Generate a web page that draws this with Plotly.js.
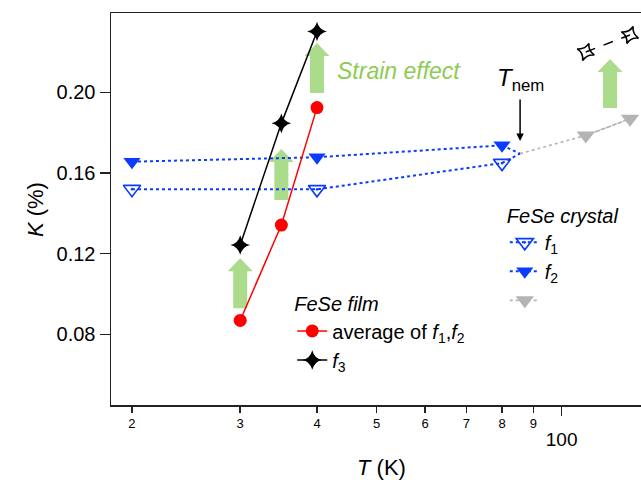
<!DOCTYPE html>
<html><head><meta charset="utf-8">
<script src="https://cdn.plot.ly/plotly-3.0.1.min.js"></script>
<style>html,body{margin:0;padding:0;background:#fff}</style>
</head><body>
<div id="chart" style="width:641px;height:480px"></div>
<script>
// ---- data ----
const filmT = [3, 3.5, 4];
const filmAvgK = [0.0869, 0.1342, 0.1924];
const filmF3K = [0.1243, 0.1846, 0.2301];

const crystalT = [2, 4, 8];
const crystalF1K = [0.1520, 0.1519, 0.1649];
const crystalF2K = [0.1656, 0.1678, 0.1737];

const tnemT = 8.56;
const tnemK = 0.1696;
const tnemArrowTipK = 0.1759;

const greyT = [10.95, 12.92];
const greyK = [0.1786, 0.1869];

const crystalF3T = [10.95, 12.92];
const crystalF3K = [0.2200, 0.2284];

const arrowT = [3, 3.5, 4, 11.99];
const arrowFromK = [0.0930, 0.1466, 0.1997, 0.1922];
const arrowToK = [0.1178, 0.1719, 0.2244, 0.2165];

const minorTickVals = [2, 3, 4, 5, 6, 7, 8, 9];
const minorTickText = ['2', '3', '4', '5', '6', '7', '8', '9'];
const majorTickVals = [10];
const majorTickText = ['100'];
const yTickVals = [0.08, 0.12, 0.16, 0.20];
const yTickText = ['0.08', '0.12', '0.16', '0.20'];

// ---- styling ----
const FONT = 'Arial, "Liberation Sans", Helvetica, sans-serif';
const BLUE = '#0a3cff';
const GREY = '#b4b4b4';
const GREEN_TEXT = '#8dcb52';
const GREEN_ARROW = '#aadc8c';
const xRange = [0.2669, 1.1292];
const yRange = [0.0450, 0.2393];
const W = 641, H = 480, M = {l: 111, r: 0, t: 13, b: 75};
const pxPerK = (H - M.t - M.b) / (yRange[1] - yRange[0]);

const traces = [];
traces.push({x: crystalT, y: crystalF1K, mode: 'lines+markers', name: '<i>f</i><sub>1</sub>',
  legend: 'legend2', line: {color: BLUE, width: 2, dash: 'dot'},
  marker: {symbol: 'triangle-down-open-dot', size: 15, color: BLUE, line: {color: BLUE, width: 1.6}}});
traces.push({x: crystalT, y: crystalF2K, mode: 'lines+markers', name: '<i>f</i><sub>2</sub>',
  legend: 'legend2', line: {color: BLUE, width: 2, dash: 'dot'},
  marker: {symbol: 'triangle-down', size: 15, color: BLUE}});
traces.push({x: [crystalT[crystalT.length - 1], tnemT], y: [crystalF1K[crystalF1K.length - 1], tnemK],
  mode: 'lines', showlegend: false, line: {color: BLUE, width: 2, dash: 'dot'}, hoverinfo: 'skip'});
traces.push({x: [crystalT[crystalT.length - 1], tnemT], y: [crystalF2K[crystalF2K.length - 1], tnemK],
  mode: 'lines', showlegend: false, line: {color: BLUE, width: 2, dash: 'dot'}, hoverinfo: 'skip'});
traces.push({x: [tnemT].concat(greyT), y: [tnemK].concat(greyK), mode: 'lines', showlegend: false,
  line: {color: GREY, width: 1.6, dash: 'dot'}, hoverinfo: 'skip'});
traces.push({x: greyT, y: greyK, mode: 'lines+markers', name: ' ', legend: 'legend2',
  line: {color: GREY, width: 1.6, dash: 'dot'},
  marker: {symbol: 'triangle-down', size: 16, color: GREY}});
traces.push({x: crystalF3T, y: crystalF3K, mode: 'lines+markers', showlegend: false,
  line: {color: '#000', width: 1.5, dash: '10px,9px'},
  marker: {symbol: 'star-diamond-open', size: 13, angle: 20, color: '#000', line: {color: '#000', width: 1.6}}});
traces.push({x: filmT, y: filmAvgK, mode: 'lines+markers',
  name: 'average of <i>f</i><sub>1</sub>,<i>f</i><sub>2</sub>', legend: 'legend',
  line: {color: '#ff0000', width: 1.5}, marker: {symbol: 'circle', size: 13, color: '#ff0000'}});
traces.push({x: filmT, y: filmF3K, mode: 'lines+markers', name: '<i>f</i><sub>3</sub>', legend: 'legend',
  line: {color: '#000', width: 1.5}, marker: {symbol: 'star-diamond', size: 14, color: '#000'}});
traces.push({x: [], y: [], xaxis: 'x2', yaxis: 'y', showlegend: false, hoverinfo: 'skip'});

const shaftHalf = 7, headHalf = 12.5, headPx = 13;
const shapes = arrowT.map((t, i) => {
  const y0 = arrowFromK[i], y1 = arrowToK[i], yh = y1 - headPx / pxPerK;
  return {type: 'path', xref: 'x', yref: 'y', xsizemode: 'pixel', xanchor: t, layer: 'below',
    path: `M${-shaftHalf},${y0} L${shaftHalf},${y0} L${shaftHalf},${yh} L${headHalf},${yh} L0,${y1} L${-headHalf},${yh} L${-shaftHalf},${yh} Z`,
    fillcolor: GREEN_ARROW, line: {width: 0}};
});

const layout = {
  width: W, height: H, margin: M,
  paper_bgcolor: '#fff', plot_bgcolor: '#fff',
  font: {family: FONT, color: '#000'},
  showlegend: true,
  xaxis: {type: 'log', range: xRange, tickmode: 'array', tickvals: minorTickVals, ticktext: minorTickText,
    ticks: 'outside', ticklen: 6, tickwidth: 1.5, tickcolor: '#222', tickfont: {size: 13, family: FONT},
    showline: true, mirror: true, linecolor: '#222', linewidth: 1.5, showgrid: false, zeroline: false},
  xaxis2: {type: 'log', range: xRange, overlaying: 'x', anchor: 'y', side: 'bottom',
    tickmode: 'array', tickvals: majorTickVals, ticktext: majorTickText,
    ticks: 'outside', ticklen: 10, tickwidth: 1.5, tickcolor: '#222', tickfont: {size: 19, family: FONT},
    ticklabelstandoff: 7, showline: false, showgrid: false, zeroline: false},
  yaxis: {range: yRange, tickmode: 'array', tickvals: yTickVals, ticktext: yTickText,
    ticks: 'outside', ticklen: 10, tickwidth: 1.5, tickcolor: '#222', tickfont: {size: 20, family: FONT},
    showline: true, linecolor: '#222', linewidth: 1.5, showgrid: false, zeroline: false},
  legend: {x: 0.342, y: 0.305, xanchor: 'left', yanchor: 'top', bgcolor: 'rgba(0,0,0,0)', borderwidth: 0,
    font: {size: 20, family: FONT}, title: {text: '<i>FeSe film</i>', font: {size: 20, family: FONT}},
    tracegroupgap: 0, itemwidth: 30},
  legend2: {x: 0.743, y: 0.531, xanchor: 'left', yanchor: 'top', bgcolor: 'rgba(0,0,0,0)', borderwidth: 0,
    font: {size: 20, family: FONT}, title: {text: '<i>FeSe crystal</i>', font: {size: 20, family: FONT}},
    tracegroupgap: 0, itemwidth: 30},
  shapes: shapes,
  annotations: [
    {x: -0.1434, y: 0.1421, xref: 'paper', yref: 'y', xanchor: 'center', yanchor: 'middle', showarrow: false,
     textangle: -90, text: '<i>K</i> (%)', font: {size: 22, color: '#000', family: FONT}},
    {x: 0.5113, y: -0.1607, xref: 'paper', yref: 'paper', xanchor: 'center', yanchor: 'middle', showarrow: false,
     text: '<i>T</i> (K)', font: {size: 22, color: '#000', family: FONT}},
    {x: Math.log10(4.28), y: 0.2106, xref: 'x', yref: 'y', xanchor: 'left', yanchor: 'middle', showarrow: false,
     text: '<i>Strain effect</i>', font: {size: 23, color: GREEN_TEXT, family: FONT}},
    {x: Math.log10(tnemT), y: 0.2061, xref: 'x', yref: 'y', xanchor: 'center', yanchor: 'middle', showarrow: false,
     text: '<i>T</i><sub>nem</sub>', font: {size: 24, color: '#000', family: FONT}},
    {x: Math.log10(tnemT), y: tnemArrowTipK, xref: 'x', yref: 'y', text: '', showarrow: true,
     ax: 0, ay: -43, arrowhead: 2, arrowsize: 1, arrowwidth: 1.5, arrowcolor: '#000', standoff: 0}
  ]
};

Plotly.newPlot('chart', traces, layout, {staticPlot: true, displayModeBar: false});
</script>
</body></html>
